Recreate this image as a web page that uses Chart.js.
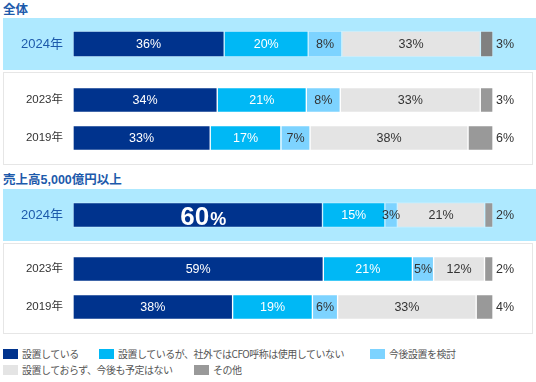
<!DOCTYPE html>
<html><head><meta charset="utf-8">
<script src="https://cdn.jsdelivr.net/npm/chart.js@4/dist/chart.umd.min.js"></script>
<style>
body{margin:0;background:#fff;font-family:"Liberation Sans","Noto Sans CJK JP",sans-serif;}
#wrap{position:relative;width:536px;height:382px;overflow:hidden;}
.title{position:absolute;left:3px;font-size:12.5px;font-weight:bold;color:#1d5aab;line-height:16px;}
.hl{position:absolute;left:3px;width:533px;height:52px;background:#AEE9FF;}
.box{position:absolute;left:3px;width:528px;border:1px solid #e6e6e6;background:#fff;}
canvas{position:absolute;left:0;}
.lg{position:absolute;font-size:10px;letter-spacing:-0.5px;color:#555;line-height:14px;white-space:nowrap;font-family:"Noto Sans CJK JP",sans-serif;}
.lg i{position:absolute;left:-19px;top:2px;width:15px;height:10px;}
</style></head>
<body><div id="wrap">
<div class="title" id="t1" style="top:2px"></div>
<div class="hl" style="top:18px"></div>
<div class="box" style="top:72px;height:91px"></div>
<div class="title" id="t2" style="top:172px"></div>
<div class="hl" style="top:189px"></div>
<div class="box" style="top:243px;height:89px"></div>
<canvas id="c1" width="536" height="52" style="top:18px"></canvas>
<canvas id="c2" width="536" height="76" style="top:81px"></canvas>
<canvas id="c3" width="536" height="52" style="top:189px"></canvas>
<canvas id="c4" width="536" height="76" style="top:250px"></canvas>
<div id="legend"></div>
</div>
<script>
const sectionTitles = ['全体', '売上高5,000億円以上'];
const seriesNames = ['設置している', '設置しているが、社外ではCFO呼称は使用していない', '今後設置を検討', '設置しておらず、今後も予定はない', 'その他'];
const latestYear = ['2024年'];
const pastYears = ['2023年', '2019年'];
// values per row in series order
const all2024 = [36, 20, 8, 33, 3];
const all2023 = [34, 21, 8, 33, 3];
const all2019 = [33, 17, 7, 38, 6];
const large2024 = [60, 15, 3, 21, 2];
const large2023 = [59, 21, 5, 12, 2];
const large2019 = [38, 19, 6, 33, 4];
const seriesColors = ['#00338D', '#00B8F5', '#7DD3FF', '#E4E4E4', '#999999'];
const labelColors = ['#ffffff', '#ffffff', '#333333', '#333333', '#333333'];

document.getElementById('t1').textContent = sectionTitles[0];
document.getElementById('t2').textContent = sectionTitles[1];

const FONT = '"Liberation Sans","Noto Sans CJK JP",sans-serif';

const labelPlugin = {
  id: 'segLabels',
  afterDatasetsDraw(chart) {
    const ctx = chart.ctx;
    const big = chart.options.plugins.segLabels.bigFirst;
    chart.data.datasets.forEach((ds, di) => {
      const meta = chart.getDatasetMeta(di);
      meta.data.forEach((el, i) => {
        const v = ds.raw[i];
        const txt = v + '%';
        ctx.save();
        ctx.textBaseline = 'middle';
        if (di === ds.last) {
          ctx.fillStyle = '#333';
          ctx.font = '12.5px ' + FONT;
          ctx.textAlign = 'left';
          ctx.fillText(txt, el.x + 3, el.y + 1);
        } else if (big && di === 0) {
          ctx.fillStyle = '#fff';
          ctx.font = 'bold 26px ' + FONT;
          const w1 = ctx.measureText(String(v)).width;
          ctx.font = 'bold 18px ' + FONT;
          const w2 = ctx.measureText('%').width;
          const cx = (el.x + el.base) / 2 + 5;
          const sx = cx - (w1 + w2) / 2;
          ctx.textAlign = 'left';
          ctx.textBaseline = 'alphabetic';
          ctx.font = 'bold 26px ' + FONT;
          ctx.fillText(String(v), sx, el.y + 10);
          ctx.font = 'bold 18px ' + FONT;
          ctx.fillText('%', sx + w1 + 1, el.y + 10);
        } else {
          ctx.fillStyle = labelColors[di];
          ctx.font = '12.5px ' + FONT;
          ctx.textAlign = 'center';
          ctx.fillText(txt, (el.x + el.base) / 2, el.y + 1);
        }
        ctx.restore();
      });
    });
  }
};

function makeChart(id, cats, rows, opt) {
  const datasets = seriesNames.map((name, si) => ({
    label: name,
    data: rows.map(r => r[si] / r.reduce((a, b) => a + b, 0) * 100),
    raw: rows.map(r => r[si]),
    last: seriesNames.length - 1,
    backgroundColor: (si === 4 && opt.gray) ? opt.gray : seriesColors[si],
    borderColor: 'rgba(255,255,255,0.3)',
    borderWidth: 1,
    borderSkipped: false,
    barThickness: opt.thick
  }));
  new Chart(document.getElementById(id), {
    type: 'bar',
    data: { labels: cats, datasets },
    plugins: [labelPlugin],
    options: {
      indexAxis: 'y',
      responsive: false,
      animation: false,
      layout: { padding: { left: 0, right: 43, top: 0, bottom: 0 } },
      plugins: { legend: { display: false }, tooltip: { enabled: false }, segLabels: { bigFirst: !!opt.big } },
      scales: {
        x: { display: false, stacked: true, min: 0, max: 100 },
        y: {
          stacked: true,
          grid: { display: false, drawTicks: false },
          border: { display: false },
          ticks: { padding: 10, color: opt.tickColor, font: { size: opt.tickSize, family: FONT } },
          afterFit(axis) { axis.width = 73; axis.paddingTop = 0; axis.paddingBottom = 0; }
        }
      }
    }
  });
}

makeChart('c1', latestYear, [all2024], { thick: 26, tickColor: '#1d5aab', tickSize: 13, gray: '#808080' });
makeChart('c2', pastYears, [all2023, all2019], { thick: 25, tickColor: '#333', tickSize: 11.5 });
makeChart('c3', latestYear, [large2024], { thick: 25, tickColor: '#1d5aab', tickSize: 13, big: true });
makeChart('c4', pastYears, [large2023, large2019], { thick: 25, tickColor: '#333', tickSize: 11.5 });

const legendPos = [[22, 347], [118, 347], [389, 347], [22, 363], [213, 363]];
const lg = document.getElementById('legend');
seriesNames.forEach((n, i) => {
  const d = document.createElement('div');
  d.className = 'lg';
  d.style.left = legendPos[i][0] + 'px';
  d.style.top = legendPos[i][1] + 'px';
  const b = document.createElement('i');
  b.style.background = seriesColors[i];
  d.appendChild(b);
  d.appendChild(document.createTextNode(n));
  lg.appendChild(d);
});
</script>
</body></html>
